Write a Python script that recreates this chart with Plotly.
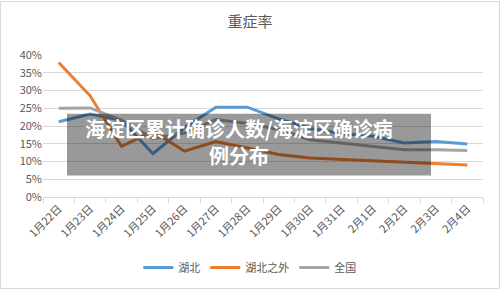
import plotly.graph_objects as go

dates = ["1月22日", "1月23日", "1月24日", "1月25日", "1月26日", "1月27日", "1月28日",
         "1月29日", "1月30日", "1月31日", "2月1日", "2月2日", "2月3日", "2月4日"]
hubei = [0.212, 0.234, 0.216, 0.122, 0.195, 0.253, 0.253, 0.220, 0.193, 0.179, 0.171, 0.152, 0.156, 0.149]
outside = [0.379, 0.285, 0.143, 0.185, 0.129, 0.156, 0.138, 0.120, 0.110, 0.106, 0.101, 0.097, 0.092, 0.090]
national = [0.250, 0.251, 0.216, 0.165, 0.180, 0.218, 0.207, 0.190, 0.161, 0.152, 0.143, 0.133, 0.133, 0.131]

series = [("湖北", hubei, "#5B9BD5"), ("湖北之外", outside, "#ED7D31"), ("全国", national, "#A5A5A5")]

font = "Noto Sans CJK SC, Noto Sans, sans-serif"
fig = go.Figure()
for name, vals, col in series:
    fig.add_trace(go.Scatter(x=dates, y=vals, name=name, mode="lines",
                             line=dict(color=col, width=3)))

fig.update_layout(
    width=500, height=294,
    margin=dict(l=43, r=17, t=55, b=94),
    paper_bgcolor="white", plot_bgcolor="white",
    font=dict(family=font, color="#595959", size=10),
    title=dict(text="重症率", x=0.5, xanchor="center", y=1 - 22 / 294, yanchor="middle",
               font=dict(size=15, color="#595959", family=font)),
    showlegend=True,
    legend=dict(orientation="h", x=0.47, xanchor="center", y=-72 / 145, yanchor="middle",
                font=dict(size=11, color="#595959"), itemwidth=30, traceorder="normal"),
    xaxis=dict(type="category", categoryorder="array", categoryarray=dates,
               range=[-0.5, len(dates) - 0.5],
               tickangle=-45, showgrid=False, showline=True, linecolor="#D9D9D9",
               ticks="outside", tickson="boundaries", tickcolor="#D9D9D9", ticklen=5,
               tickfont=dict(size=11, color="#595959"), fixedrange=True),
    yaxis=dict(range=[0, 0.40], dtick=0.05, tickformat=".0%", showgrid=True,
               gridcolor="#D9D9D9", gridwidth=1, zeroline=False, showline=False,
               tickfont=dict(size=11, color="#595959"), fixedrange=True),
    shapes=[
        dict(type="rect", xref="paper", yref="paper",
             x0=(67 - 43) / 440, x1=(431 - 43) / 440,
             y0=(200 - 178) / 145, y1=(200 - 115) / 145,
             fillcolor="rgba(0,0,0,0.4)", line=dict(width=0), layer="above"),
        dict(type="rect", xref="paper", yref="paper",
             x0=-42.5 / 440, x1=(499.5 - 43) / 440,
             y0=-93.5 / 145, y1=(200 - 0.5) / 145,
             line=dict(color="#D9D9D9", width=1), fillcolor="rgba(0,0,0,0)", layer="below"),
    ],
    annotations=[
        dict(text="<b>海淀区累计确诊人数/海淀区确诊病</b>",
             xref="paper", yref="paper", x=(239 - 43) / 440, y=(200 - 130) / 145,
             xanchor="center", yanchor="middle", showarrow=False, borderpad=0,
             font=dict(size=20, color="white", family=font)),
        dict(text="<b>例分布</b>",
             xref="paper", yref="paper", x=(239 - 43) / 440, y=(200 - 158) / 145,
             xanchor="center", yanchor="middle", showarrow=False, borderpad=0,
             font=dict(size=20, color="white", family=font)),
    ],
)

fig.write_html("out.html")
